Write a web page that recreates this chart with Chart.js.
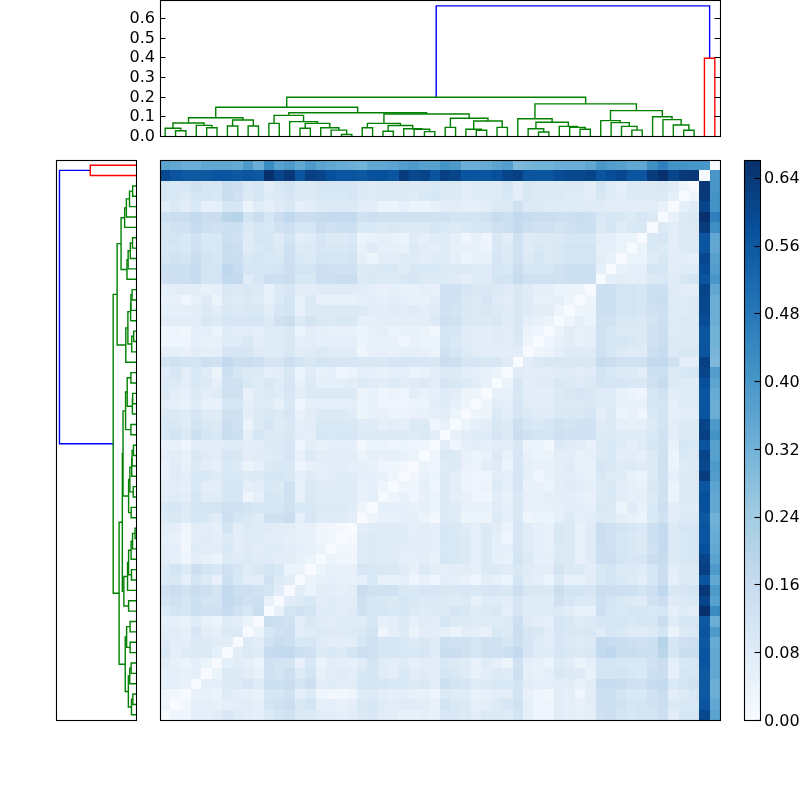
<!DOCTYPE html>
<html><head><meta charset="utf-8">
<script src="https://cdn.jsdelivr.net/npm/chart.js@4"></script>
<style>html,body{margin:0;padding:0;background:#fff;width:800px;height:800px;overflow:hidden}canvas{position:absolute}</style>
</head><body>
<canvas id="top"></canvas><canvas id="left"></canvas><canvas id="heat"></canvas><canvas id="bar"></canvas>
<script>
// Distances in hundredths; lower triangle, row i holds columns 0..i-1 (the diagonal is 0).
const distRows = [
[],
[3],
[3,2],
[6,6,5],
[6,6,5,6],
[7,5,4,6,4],
[10,6,8,9,9,6],
[8,7,6,9,9,7,7],
[7,7,6,11,7,6,9,9],
[6,6,5,8,5,4,8,7,4],
[9,12,11,14,13,13,16,13,11,15],
[12,13,11,14,12,12,17,15,13,14,5],
[13,15,13,15,14,12,17,14,14,13,12,7],
[9,10,6,12,9,5,14,10,7,7,13,9,7],
[9,12,9,14,12,10,13,11,8,10,12,10,4,4],
[7,6,3,7,5,4,9,8,9,8,8,7,7,5,4],
[7,6,2,8,7,7,10,7,8,7,8,8,7,6,5,4],
[6,5,2,7,8,6,9,7,8,8,7,7,6,5,5,3,2],
[7,6,3,7,7,6,12,7,9,8,8,7,7,5,5,3,2,1],
[9,10,8,11,10,8,14,11,10,8,13,13,15,6,11,8,8,8,7],
[10,11,9,12,12,12,13,13,12,11,11,11,13,10,10,9,9,9,8,3],
[7,8,7,11,8,8,11,11,3,6,11,10,13,5,10,8,8,8,8,5,6],
[7,7,6,10,7,7,11,11,6,7,10,9,13,5,10,8,8,8,8,5,6,3],
[5,8,7,10,10,8,10,10,9,9,11,11,10,6,8,6,7,8,8,6,6,5,3],
[5,8,5,9,7,6,10,8,4,6,9,10,10,3,5,6,7,7,6,6,5,3,3,2],
[6,7,5,10,8,7,11,10,7,8,8,9,11,5,9,7,7,7,7,4,6,5,6,5,4],
[5,5,3,7,7,7,8,8,7,7,9,9,11,3,7,5,6,6,6,2,4,4,3,4,3,3],
[10,12,9,14,11,10,15,14,6,11,9,9,10,7,6,11,10,11,11,9,9,9,9,9,8,9,7],
[10,10,8,12,10,9,15,13,4,9,11,8,10,6,7,10,10,10,10,8,8,6,7,6,9,9,3,5],
[9,9,8,11,8,8,13,13,7,9,10,9,11,5,7,9,9,9,8,4,5,5,4,4,5,5,6,7,4],
[7,6,5,8,5,5,11,11,6,8,8,5,10,3,6,6,6,6,6,4,5,3,3,3,4,4,7,8,6,3],
[9,7,6,9,7,8,13,13,5,8,9,8,11,7,9,9,9,9,9,4,5,3,4,3,7,5,6,8,7,4,3],
[9,9,7,10,9,6,13,13,10,8,10,8,11,5,9,6,6,6,7,9,8,7,9,7,8,9,7,11,10,9,7,5],
[8,11,7,10,8,4,14,11,9,9,6,7,10,4,8,5,6,3,4,6,6,5,6,6,4,5,7,9,9,7,6,5,4],
[12,13,12,12,14,13,17,14,15,14,11,11,14,12,10,12,11,11,11,10,10,10,11,11,11,11,10,15,14,11,11,10,11,8],
[6,6,5,7,6,6,11,11,11,8,8,8,10,7,8,9,8,8,8,3,5,6,5,6,6,5,4,13,11,9,7,7,7,7,7],
[3,3,3,6,5,5,8,8,10,7,8,8,10,6,7,6,6,6,6,4,5,5,5,3,5,4,4,12,10,8,7,7,8,7,9,3],
[3,3,2,6,6,4,8,7,7,6,8,8,10,4,7,6,5,5,5,4,5,6,4,5,5,4,2,12,11,8,7,7,8,7,10,4,3],
[7,7,7,7,10,9,11,11,11,11,9,13,15,9,12,10,9,10,10,6,6,7,7,7,7,7,9,14,13,10,9,9,10,8,10,6,5,4],
[6,6,6,7,9,7,10,9,10,10,7,11,12,5,9,9,9,9,9,9,7,7,8,7,8,7,8,13,12,10,9,10,9,8,10,8,7,7,3],
[5,5,3,5,8,4,9,8,9,8,5,9,12,5,9,5,5,5,5,6,7,6,7,6,5,5,7,13,13,10,9,11,8,7,10,8,5,5,6,3],
[6,7,7,7,5,6,10,9,10,9,5,9,11,7,7,8,8,8,8,7,6,5,6,5,5,6,5,13,13,11,10,10,9,8,10,8,6,6,4,4,3],
[13,14,14,16,12,12,17,17,8,11,14,14,15,10,10,14,14,15,15,9,10,9,9,10,11,9,9,9,8,6,8,8,12,12,16,13,13,13,13,14,14,14],
[14,14,14,16,12,12,18,16,11,11,11,12,14,12,12,14,13,13,13,9,9,10,10,8,10,10,10,9,9,9,8,8,11,10,15,11,11,11,13,14,14,14,6],
[12,13,12,15,12,11,15,15,10,11,10,10,14,10,9,12,11,11,12,6,4,7,7,8,8,7,8,8,6,4,5,5,11,9,13,9,11,9,10,12,12,12,7,5],
[11,11,10,13,11,10,15,14,8,10,11,9,14,9,9,11,10,10,11,5,8,6,6,5,9,7,6,8,5,5,5,4,10,9,13,8,10,9,10,12,12,12,6,6,4],
[12,12,10,13,10,10,14,13,8,11,11,8,12,7,8,11,9,9,10,4,5,6,5,4,8,6,8,8,6,3,5,3,10,7,13,8,9,9,9,11,11,11,7,6,4,4],
[12,13,13,16,14,13,14,14,9,11,10,13,14,11,11,15,13,14,14,10,10,9,10,9,9,9,11,10,9,10,11,11,13,14,17,14,13,13,12,13,14,14,9,12,8,10,10],
[14,15,15,17,15,15,19,20,12,15,11,15,18,15,15,16,17,17,17,13,14,13,13,13,13,13,13,13,12,12,12,13,16,14,17,16,15,15,14,14,15,14,10,11,10,9,11,9],
[7,9,7,10,6,6,11,11,4,8,6,8,10,6,7,9,9,9,9,7,7,4,4,6,4,4,5,7,7,6,6,7,9,9,13,9,9,8,8,8,8,8,8,7,7,7,7,7,5],
[11,10,9,12,11,10,15,13,9,11,8,9,11,9,9,10,10,10,11,9,8,9,9,9,8,10,11,9,9,7,8,8,8,10,7,10,9,9,9,8,8,7,10,8,7,9,9,9,9,6],
[11,10,11,13,11,11,15,14,10,11,7,10,12,9,9,11,11,11,11,9,8,9,9,9,9,9,10,9,9,7,8,8,8,11,7,10,9,9,9,9,9,7,12,8,6,9,9,9,10,8,3],
[60,57,56,56,56,57,57,56,57,56,66,61,64,57,62,61,58,57,57,56,58,58,57,63,60,61,57,62,61,57,57,57,58,61,62,57,57,57,59,60,60,61,57,59,60,57,57,63,66,61,64,64],
[36,35,33,33,35,35,35,34,39,33,43,37,39,35,39,36,35,34,33,32,35,35,36,38,39,37,37,41,39,33,33,34,36,38,30,31,32,32,33,33,33,35,40,38,37,35,35,42,46,41,41,40,40]
];
// Dendrogram: [merge height, left branch, right branch]; integers are leaves.
const branchA = [.093,[.066,[.039,0,[.027,1,2]],[.054,3,[.042,4,5]]],[.081,[.051,6,7],[.051,8,9]]];
const branchB = [.105,[.064,10,11],[.073,12,[.064,[.039,13,14],[.042,15,[.03,16,[.008,17,18]]]]]];
const branchC = [.064,[.042,19,20],[.053,[.024,21,22],[.037,23,[.034,24,[.022,25,26]]]]];
const branchD = [.09,[.044,27,28],[.076,[.034,29,[.029,30,31]],[.044,32,33]]];
const branchE = [.088,34,[.07,[.037,35,[.02,36,37]],[.049,38,[.044,39,[.034,40,41]]]]];
const branchF = [.129,[.078,42,[.068,43,[.049,44,[.03,45,46]]]],[.098,47,[.083,48,[.056,49,[.029,50,51]]]]];
const branchG = [.395,52,53];
const tree = [.661,[.197,[.146,branchA,[.118,branchB,[.112,branchC,branchD]]],[.163,branchE,branchF]],branchG];
const leafCount = 54;
const vmax = 0.661, dendroMax = 0.691;
const dendroTicks = 0.1, barTicks = 0.08;
const bluesStops = [[247,251,255],[222,235,247],[198,219,239],[158,202,225],[107,174,214],[66,146,198],[33,113,181],[8,81,156],[8,48,107]];
const fontSpec = {family:"'DejaVu Sans'",size:16};

function rgb(t){
  t=Math.max(0,Math.min(1,t))*(bluesStops.length-1);
  const i=Math.min(Math.floor(t),bluesStops.length-2),f=t-i,a=bluesStops[i],b=bluesStops[i+1];
  return `rgb(${a.map((c,k)=>Math.round(c+(b[k]-c)*f)).join(',')})`;
}
function collect(node,out){
  if(typeof node==='number')return {pos:node+0.5,h:0};
  const l=collect(node[1],out),r=collect(node[2],out);
  const color=node[0]>0.5?'#0000ff':(node===branchG?'#ff0000':'#008000');
  out.push({a:l,b:r,h:node[0],color});
  return {pos:(l.pos+r.pos)/2,h:node[0]};
}
const links=[];collect(tree,links);

function frame(opts){return {id:'frame',afterDraw(c){
  const x=c.ctx,a=c.chartArea;x.save();x.strokeStyle='#000';x.lineWidth=1.1;
  x.strokeRect(a.left+.5,a.top+.5,a.right-a.left,a.bottom-a.top);
  const s=c.scales.y;
  if(opts&&opts.ticks)s.ticks.forEach(t=>{const y=Math.round(s.getPixelForValue(t.value))+.5;
    x.beginPath();
    if(opts.ticks.includes('l')){x.moveTo(a.left,y);x.lineTo(a.left+5.5,y);}
    if(opts.ticks.includes('r')){x.moveTo(a.right,y);x.lineTo(a.right-5.5,y);}
    x.stroke();});
  x.restore();}};}
function base(padding){return {responsive:false,animation:false,devicePixelRatio:1,
  layout:{padding},plugins:{legend:{display:false},tooltip:{enabled:false}},events:[]};}
function place(id,l,t,w,h){const c=document.getElementById(id);c.width=w;c.height=h;c.style.cssText=`left:${l}px;top:${t}px;width:${w}px;height:${h}px`;return c;}
function fixWidth(w){return s=>{s.width=w;s.paddingTop=0;s.paddingBottom=0;};}

// top dendrogram: plot x 160..720, y 0..136
new Chart(place('top',100,0,625,152),{type:'scatter',
  data:{datasets:links.map(k=>({data:[{x:k.a.pos,y:k.a.h},{x:k.a.pos,y:k.h},{x:k.b.pos,y:k.h},{x:k.b.pos,y:k.b.h}],
    showLine:true,borderColor:k.color,borderWidth:1.4,pointRadius:0,tension:0}))},
  options:{...base({left:0,right:5,top:0,bottom:16}),
    scales:{x:{type:'linear',min:0,max:leafCount,display:false},
      y:{type:'linear',min:0,max:dendroMax,grid:{display:false,drawTicks:false},border:{display:false},afterFit:fixWidth(60),
        ticks:{stepSize:dendroTicks,includeBounds:false,autoSkip:false,padding:5,labelOffset:1,color:'#000',font:fontSpec,callback:v=>v.toFixed(1)}}}},
  plugins:[frame({ticks:'lr'})]});

// left dendrogram: plot x 56..136, y 160..720
new Chart(place('left',50,155,92,570),{type:'scatter',
  data:{datasets:links.map(k=>({data:[{y:k.a.pos,x:k.a.h},{y:k.a.pos,x:k.h},{y:k.b.pos,x:k.h},{y:k.b.pos,x:k.b.h}],
    showLine:true,borderColor:k.color,borderWidth:1.4,pointRadius:0,tension:0}))},
  options:{...base({left:6,right:6,top:5,bottom:5}),
    scales:{x:{type:'linear',min:0,max:dendroMax,reverse:true,display:false},y:{type:'linear',min:0,max:leafCount,display:false}}},
  plugins:[frame()]});

// heatmap: plot 160..720 both ways
const cells=[];
for(let i=0;i<leafCount;i++)for(let j=0;j<leafCount;j++){
  const v=i===j?0:(i>j?distRows[i][j]:distRows[j][i])/100;
  cells.push({x:j,y:i,v});
}
const cellPainter={id:'cells',beforeDatasetsDraw(c){
  const x=c.ctx,sx=c.scales.x,sy=c.scales.y;
  c.data.datasets[0].data.forEach(p=>{
    const l=Math.round(sx.getPixelForValue(p.x)),r=Math.round(sx.getPixelForValue(p.x+1));
    const b=Math.round(sy.getPixelForValue(p.y)),t=Math.round(sy.getPixelForValue(p.y+1));
    x.fillStyle=rgb(p.v/vmax);x.fillRect(l,t,r-l,b-t);
  });}};
new Chart(place('heat',155,155,570,570),{type:'scatter',
  data:{datasets:[{data:cells,pointRadius:0}]},
  options:{...base({left:5,right:5,top:5,bottom:5}),
    scales:{x:{type:'linear',min:0,max:leafCount,display:false},y:{type:'linear',min:0,max:leafCount,display:false}}},
  plugins:[cellPainter,frame()]});

// colour bar: plot x 744..760, y 160..720
new Chart(place('bar',739,150,61,585),{type:'bar',
  data:{labels:[''],datasets:[{data:[[0,vmax]],barPercentage:1,categoryPercentage:1,
    backgroundColor(ctx){const a=ctx.chart.chartArea;if(!a)return '#6baed6';
      const g=ctx.chart.ctx.createLinearGradient(0,a.bottom,0,a.top);
      bluesStops.forEach((s,i)=>g.addColorStop(i/(bluesStops.length-1),`rgb(${s.join(',')})`));return g;}}]},
  options:{...base({left:5,right:0,top:10,bottom:15}),
    scales:{x:{display:false},
      y:{position:'right',type:'linear',min:0,max:vmax,grid:{display:false,drawTicks:false},border:{display:false},afterFit:fixWidth(40),
        ticks:{stepSize:barTicks,includeBounds:false,autoSkip:false,padding:4,labelOffset:1.5,color:'#000',font:fontSpec,callback:v=>v.toFixed(2)}}}},
  plugins:[frame({ticks:'r'})]});
</script>
</body></html>
